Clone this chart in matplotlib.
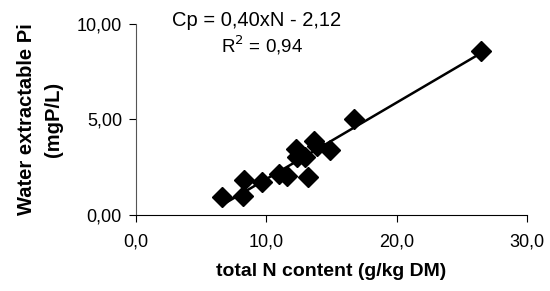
import matplotlib.pyplot as plt
import numpy as np

plt.rcParams['font.family'] = ['Liberation Sans', 'DejaVu Sans']

# values
n_content = [6.6, 8.2, 8.3, 9.7, 11.0, 11.6, 13.2, 12.3, 12.4, 13.0, 13.7, 13.9, 14.9, 16.7, 26.5]
water_pi = [0.96, 0.98, 1.83, 1.75, 2.15, 2.05, 1.97, 3.45, 3.05, 3.05, 3.88, 3.6, 3.40, 5.02, 8.6]
slope, intercept = 0.40, -2.12
x_ticks = [0, 10, 20, 30]
x_labels = ['0,0', '10,0', '20,0', '30,0']
y_ticks = [0, 5, 10]
y_labels = ['0,00', '5,00', '10,00']

fig = plt.figure(figsize=(5.5, 2.91), dpi=100)
ax = fig.add_axes([0.247, 0.261, 0.711, 0.657])

ax.plot(n_content, water_pi, linestyle='none', marker='D', markersize=10.5,
        color='black', zorder=3)
xs = np.array([min(n_content), max(n_content)])
ax.plot(xs, slope * xs + intercept, color='black', linewidth=1.8, zorder=2)

ax.set_xlim(0, 30)
ax.set_ylim(0, 10)
ax.set_xticks(x_ticks)
ax.set_xticklabels(x_labels)
ax.set_yticks(y_ticks)
ax.set_yticklabels(y_labels)
ax.tick_params(axis='both', direction='out', length=5, labelsize=13, pad=5)
ax.tick_params(axis='x', pad=8)

for side in ['top', 'right']:
    ax.spines[side].set_visible(False)
ax.spines['left'].set_color('#555555')
ax.spines['bottom'].set_color('black')

ax.set_xlabel('total N content (g/kg DM)', fontsize=14, fontweight='bold', labelpad=9)
ax.set_ylabel('Water extractable Pi\n(mgP/L)', fontsize=14.5, fontweight='bold',
              labelpad=10, linespacing=1.55)

fig.text(0.466, 0.93, 'Cp = 0,40xN - 2,12', fontsize=14.5, ha='center', va='center')
fig.text(0.476, 0.843, 'R$^2$ = 0,94', fontsize=13.5, ha='center', va='center')

fig.savefig('out.png', dpi=100)
